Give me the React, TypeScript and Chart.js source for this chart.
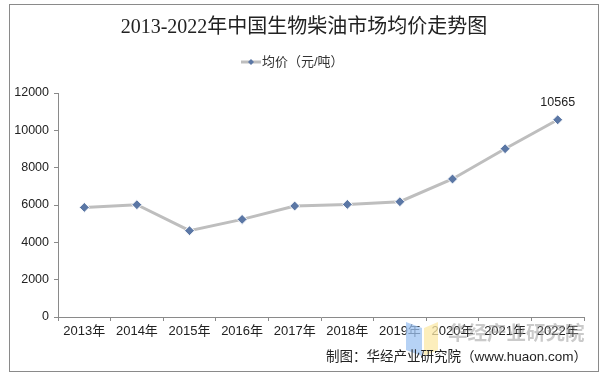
import React, { useEffect, useRef } from "react";
import { Chart, registerables } from "chart.js";

Chart.register(...registerables);

const title = "2013-2022年中国生物柴油市场均价走势图";
const seriesName = "均价（元/吨）";
const categories = ["2013年", "2014年", "2015年", "2016年", "2017年", "2018年", "2019年", "2020年", "2021年", "2022年"];
const prices = [5871, 6016, 4623, 5229, 5946, 6032, 6177, 7393, 9016, 10565];
const labeledIndex = [9];
const sourceText = "制图：华经产业研究院（www.huaon.com）";
const watermarkText = "华经产业研究院";

const LINE_COLOR = "#BEBEBE";
const MARK_COLOR = "#5B77A5";
const CJK = "'Liberation Sans', 'Noto Sans CJK SC', sans-serif";

const decorPlugin = {
  id: "decor",
  beforeDraw(chart: any) {
    const ctx = chart.ctx;
    ctx.save();
    ctx.fillStyle = "#ffffff";
    ctx.fillRect(0, 0, chart.width, chart.height);
    ctx.strokeStyle = "#8a8a8a";
    ctx.lineWidth = 1;
    ctx.strokeRect(9.5, 4.5, 589, 367);
    ctx.restore();
  },
  afterDraw(chart: any) {
    const ctx = chart.ctx;
    ctx.save();
    // title
    ctx.fillStyle = "#222";
    ctx.font = "20px 'Liberation Serif', 'Noto Sans CJK SC', serif";
    ctx.textAlign = "center";
    ctx.textBaseline = "middle";
    ctx.fillText(title, 304, 28);
    // legend
    ctx.strokeStyle = LINE_COLOR;
    ctx.lineWidth = 3;
    ctx.beginPath();
    ctx.moveTo(241, 62);
    ctx.lineTo(261, 62);
    ctx.stroke();
    ctx.fillStyle = MARK_COLOR;
    ctx.beginPath();
    ctx.moveTo(251, 59);
    ctx.lineTo(254, 62);
    ctx.lineTo(251, 65);
    ctx.lineTo(248, 62);
    ctx.closePath();
    ctx.fill();
    ctx.fillStyle = "#333";
    ctx.font = "13px " + CJK;
    ctx.textAlign = "left";
    ctx.fillText(seriesName, 262, 62);
    // data labels
    const meta = chart.getDatasetMeta(0);
    ctx.font = "12.5px " + CJK;
    ctx.textAlign = "center";
    ctx.textBaseline = "alphabetic";
    ctx.fillStyle = "#222";
    labeledIndex.forEach((i) => {
      const p = meta.data[i];
      ctx.fillText(String(prices[i]), p.x, p.y - 14);
    });
    // watermark logo
    ctx.globalAlpha = 0.75;
    ctx.fillStyle = "#9DC3F2";
    ctx.beginPath();
    ctx.moveTo(406, 322);
    ctx.lineTo(422, 328);
    ctx.lineTo(422, 356);
    ctx.lineTo(406, 350);
    ctx.closePath();
    ctx.fill();
    ctx.fillStyle = "#FBE8A6";
    ctx.beginPath();
    ctx.moveTo(424, 328);
    ctx.lineTo(438, 322);
    ctx.lineTo(438, 350);
    ctx.lineTo(424, 356);
    ctx.closePath();
    ctx.fill();
    ctx.globalAlpha = 1;
    ctx.fillStyle = "rgba(150,150,150,0.5)";
    ctx.font = "bold 19.5px 'Noto Sans CJK SC', sans-serif";
    ctx.textAlign = "left";
    ctx.textBaseline = "middle";
    ctx.fillText(watermarkText, 448, 333);
    // source
    ctx.fillStyle = "#222";
    ctx.font = "13.5px " + CJK;
    ctx.textAlign = "right";
    ctx.fillText(sourceText, 587, 357);
    ctx.restore();
  },
};

export default function App() {
  const ref = useRef<HTMLCanvasElement | null>(null);
  useEffect(() => {
    if (!ref.current) return;
    const chart = new Chart(ref.current, {
      type: "line",
      data: {
        labels: categories,
        datasets: [
          {
            label: seriesName,
            data: prices,
            borderColor: LINE_COLOR,
            borderWidth: 3,
            pointStyle: "rectRot",
            pointRadius: 5,
            pointBackgroundColor: MARK_COLOR,
            pointBorderColor: "#ffffff",
            pointBorderWidth: 1,
            tension: 0,
          },
        ],
      },
      options: {
        animation: false,
        responsive: false,
        devicePixelRatio: 1,
        layout: { padding: { left: 10, right: 23, top: 93, bottom: 32 } },
        plugins: { legend: { display: false }, title: { display: false }, tooltip: { enabled: false } },
        scales: {
          x: {
            offset: true,
            grid: { display: true, drawOnChartArea: false, offset: true, color: "#8a8a8a", tickLength: 4 },
            border: { color: "#8a8a8a" },
            ticks: { color: "#222", font: { size: 13, family: CJK }, padding: 3, maxRotation: 0, autoSkip: false },
            afterFit: (s: any) => { s.height = 30; },
          },
          y: {
            min: 0,
            max: 12000,
            grid: { display: true, drawOnChartArea: false, color: "#8a8a8a", tickLength: 4 },
            border: { color: "#8a8a8a" },
            ticks: { stepSize: 2000, color: "#222", font: { size: 12.5, family: CJK }, padding: 5, callback: (v: any) => String(v) },
            afterFit: (s: any) => { s.width = 48; },
          },
        },
      },
      plugins: [decorPlugin],
    });
    return () => chart.destroy();
  }, []);
  return (
    <div style={{ position: "fixed", left: 0, top: 0, width: 607, height: 379 }}>
      <canvas ref={ref} width={607} height={379} />
    </div>
  );
}
